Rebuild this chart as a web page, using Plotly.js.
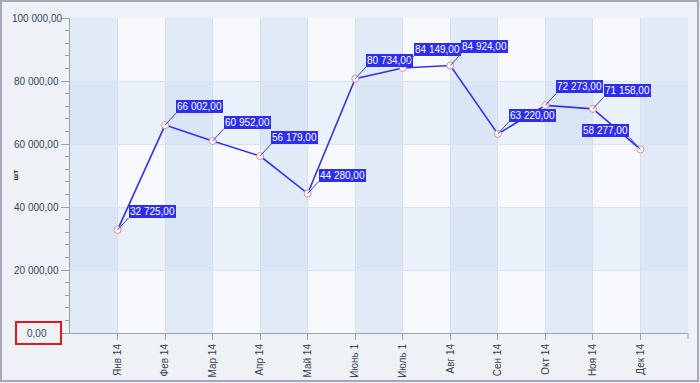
<!DOCTYPE html>
<html>
<head>
<meta charset="utf-8">
<script src="https://cdn.plot.ly/plotly-3.0.1.min.js"></script>
<style>html,body{margin:0;padding:0;background:#eef2f7;}#chart{width:700px;height:383px;}</style>
</head>
<body>
<div id="chart"></div>
<script>
const months = ["Янв 14","Фев 14","Мар 14","Апр 14","Май 14","Июнь 1","Июль 1","Авг 14","Сен 14","Окт 14","Ноя 14","Дек 14"];
const values = [32725, 66002, 60952, 56179, 44280, 80734, 84149, 84924, 63220, 72273, 71158, 58277];
const yTickVals = [0, 20000, 40000, 60000, 80000, 100000];
const axisTitle = "шт";

function fmt(v) {
  const parts = v.toFixed(2).split(".");
  return parts[0].replace(/\B(?=(\d{3})+(?!\d))/g, " ") + "," + parts[1];
}

const L = 70, R = 12, T = 18, B = 50, W = 700, H = 383;
const pw = W - L - R, ph = H - T - B;
const px = v => (v - L) / pw;
const py = v => (H - B - v) / ph;

const shapes = [];
// vertical bands
for (let i = -1; i < months.length; i += 2) {
  shapes.push({type:'rect', xref:'x', yref:'paper', x0:i, x1:i+1, y0:0, y1:1,
    fillcolor:'rgba(190,212,240,0.38)', line:{width:0}, layer:'below'});
}
// horizontal bands
[[20000,40000],[60000,80000]].forEach(b => {
  shapes.push({type:'rect', xref:'paper', yref:'y', x0:0, x1:1, y0:b[0], y1:b[1],
    fillcolor:'rgba(190,212,240,0.2)', line:{width:0}, layer:'below'});
});
// right end tick of x axis
shapes.push({type:'line', xref:'paper', yref:'paper', x0:1, x1:1, y0:0, y1:py(H-B+6),
  line:{color:'#9aa4b0', width:1}});
// red box around 0,00
shapes.push({type:'rect', xref:'paper', yref:'paper', x0:px(16), x1:px(61), y0:py(344), y1:py(322),
  line:{color:'#e8141c', width:2}, fillcolor:'rgba(0,0,0,0)'});
// outer frame
shapes.push({type:'rect', xref:'paper', yref:'paper', x0:px(1), x1:px(698), y0:py(381), y1:py(1),
  line:{color:'#aaa6ba', width:2}, fillcolor:'rgba(0,0,0,0)'});

const annotations = values.map((v, i) => {
  const leftSide = i === months.length - 1;
  return {
    x: i, y: v, xref:'x', yref:'y', text: fmt(v),
    showarrow:true, arrowhead:0, arrowwidth:1, arrowcolor:'#3a3af0',
    ax: leftSide ? -11 : 11, ay: -12, axref:'pixel', ayref:'pixel',
    xanchor: leftSide ? 'right' : 'left', yanchor:'bottom',
    bgcolor:'#2e2ef0', bordercolor:'#2e2ef0', borderwidth:0, borderpad:1,
    font:{family:'Liberation Sans, Arial, sans-serif', size:10, color:'#ffffff'}
  };
});
// centred y tick labels (as in the reference)
yTickVals.forEach(v => {
  annotations.push({
    xref:'paper', yref:'y', x:px(36.5), y:v, text: fmt(v), showarrow:false,
    xanchor:'center', yanchor:'middle',
    font:{family:'Liberation Sans, Arial, sans-serif', size:10, color:'#34465c'}
  });
});
annotations.push({
  xref:'paper', yref:'paper', x:px(8), y:py(175), text:'<b>' + axisTitle + '</b>',
  showarrow:false, textangle:-90, font:{family:'Liberation Sans, Arial, sans-serif', size:8, color:'#222'}
});

const trace = {
  type:'scatter', mode:'lines+markers',
  x: months.map((m, i) => i), y: values,
  line:{color:'#3434e6', width:1.6},
  marker:{symbol:'circle', size:7, color:'#ffffff', line:{color:'#e08a96', width:1}},
  hoverinfo:'skip'
};

const layout = {
  width: W, height: H,
  margin:{l:L, r:R, t:T, b:B, pad:0},
  paper_bgcolor:'#eef2f7', plot_bgcolor:'#f7f9fd',
  separators:', ',
  showlegend:false,
  font:{family:'Liberation Sans, Arial, sans-serif', size:10, color:'#2c3e50'},
  xaxis:{
    range:[-1, months.length], tickmode:'array', tickvals:months.map((m,i)=>i), ticktext:months,
    tickangle:-90, ticks:'outside', ticklen:6, tickcolor:'#9aa4b0',
    showline:true, linecolor:'#9aa4b0', linewidth:1,
    showgrid:true, gridcolor:'#d6dfeb', gridwidth:1, zeroline:false,
    tickfont:{family:'Liberation Sans, Arial, sans-serif', size:10, color:'#3a3f48'}
  },
  yaxis:{
    range:[0, 100000], tickmode:'array', tickvals:yTickVals, showticklabels:false,
    ticks:'outside', ticklen:8, tickcolor:'#9aa4b0',
    minor:{dtick:4000, ticks:'outside', ticklen:4, tickcolor:'#9aa4b0', showgrid:false},
    showline:true, linecolor:'#9aa4b0', linewidth:1,
    showgrid:true, gridcolor:'#dbe3ee', gridwidth:1, zeroline:false
  },
  shapes: shapes,
  annotations: annotations
};

Plotly.newPlot('chart', [trace], layout, {displayModeBar:false, staticPlot:true});
</script>
</body>
</html>
